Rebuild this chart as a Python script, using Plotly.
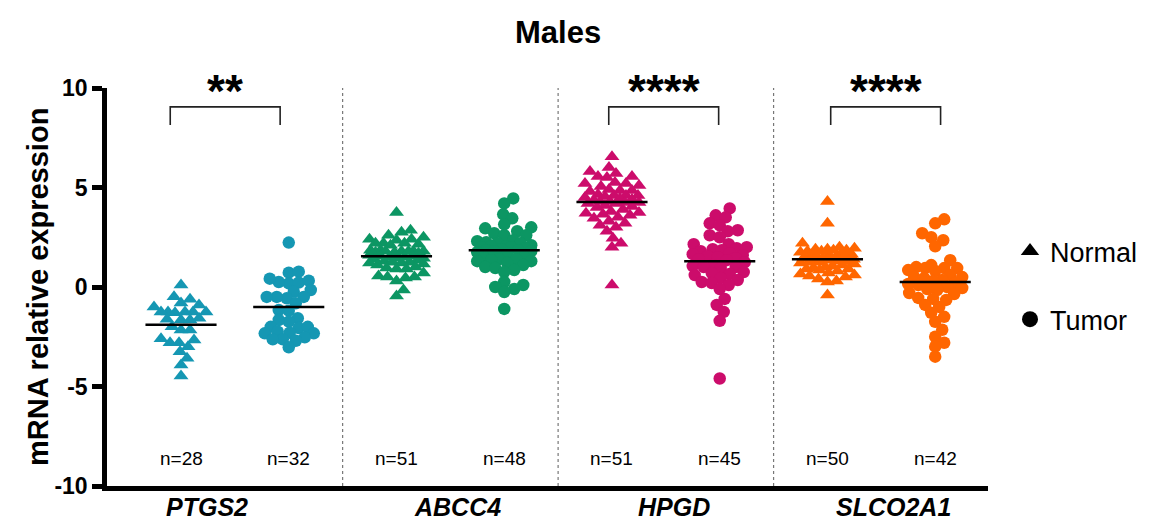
import numpy as np
import plotly.graph_objects as go

# ---------------- data ----------------
genes = ["PTGS2", "ABCC4", "HPGD", "SLCO2A1"]
groups = ["Normal", "Tumor"]
gene_colors = ["#1597b3", "#0c9663", "#cc0c6b", "#ff6600"]

ptgs2_normal = [0.1, -0.49, -0.62, -0.8, -0.9, -1.0, -1.29, -1.26, -1.26, -1.26, -1.26, -1.26,
                -1.62, -1.66, -1.66, -1.57, -2.0, -2.16, -2.16, -2.66, -2.8, -2.8, -2.6,
                -3.0, -3.25, -3.58, -3.92, -4.47]
ptgs2_tumor = [2.23, 0.72, 0.77, 0.18, 0.25, 0.22, 0.32, 0.42, -0.15, -0.24, -0.57, -0.5, -0.5,
               -0.5, -0.82, -1.16, -1.19, -1.57, -1.74, -1.66, -2.0, -2.06, -2.0, -2.33, -2.33,
               -2.25, -2.3, -2.53, -2.63, -2.63, -2.7, -3.03]
abcc4_normal = [3.75, 2.85, 2.75, 2.6, 2.5, 2.4, 2.4, 2.35, 2.2, 2.2, 2.2, 2.15, 2.1, 1.85, 1.8,
                1.8, 1.8, 1.8, 1.75, 1.75, 1.8, 1.85, 1.7, 1.6, 1.55, 1.55, 1.5, 1.5, 1.45, 1.45,
                1.4, 1.35, 1.3, 1.25, 1.25, 1.2, 1.2, 1.15, 1.1, 1.0, 0.95, 0.9, 0.9, 0.7, 0.55,
                0.5, 0.5, 0.45, 0.3, -0.15, -0.45]
abcc4_tumor = [4.45, 4.2, 3.65, 3.45, 3.15, 3.0, 2.95, 2.8, 2.7, 2.6, 2.6, 2.35, 2.3, 2.25, 2.2,
               2.2, 2.1, 2.05, 2.05, 2.0, 2.0, 1.95, 1.9, 1.85, 1.85, 1.8, 1.8, 1.75, 1.7, 1.5,
               1.45, 1.4, 1.4, 1.35, 1.3, 1.3, 1.2, 1.1, 1.0, 0.95, 0.85, 0.75, 0.25, 0.1, 0.0,
               -0.1, -0.25, -1.1]
hpgd_normal = [6.55, 6.0, 5.8, 5.7, 5.55, 5.55, 5.5, 5.25, 5.2, 5.2, 5.1, 5.05, 4.9, 4.85, 4.85,
               4.8, 4.65, 4.6, 4.6, 4.6, 4.55, 4.5, 4.45, 4.4, 4.35, 4.3, 4.3, 4.25, 4.25, 4.2,
               4.2, 4.1, 4.05, 4.0, 3.9, 3.8, 3.75, 3.7, 3.65, 3.6, 3.5, 3.45, 3.3, 3.2, 3.1,
               3.0, 2.8, 2.45, 2.2, 2.0, 0.1]
hpgd_tumor = [3.95, 3.6, 3.5, 3.2, 3.1, 2.85, 2.8, 2.6, 2.5, 2.15, 2.15, 2.0, 1.95, 1.9, 1.85,
              1.8, 1.7, 1.65, 1.6, 1.55, 1.5, 1.45, 1.4, 1.35, 1.25, 1.1, 1.05, 1.0, 1.0, 0.95,
              0.75, 0.7, 0.65, 0.6, 0.45, 0.35, 0.25, 0.2, 0.1, -0.1, -0.6, -0.9, -1.25, -1.7,
              -4.6]
slco2a1_normal = [4.3, 3.2, 2.2, 2.0, 1.95, 1.9, 1.9, 1.85, 1.85, 1.8, 1.8, 1.75, 1.7, 1.65, 1.6,
                  1.6, 1.55, 1.5, 1.5, 1.5, 1.45, 1.45, 1.4, 1.4, 1.4, 1.35, 1.35, 1.3, 1.3, 1.25,
                  1.25, 1.2, 1.15, 1.1, 1.05, 1.0, 0.95, 0.9, 0.9, 0.85, 0.8, 0.7, 0.65, 0.6,
                  0.55, 0.5, 0.4, 0.3, 0.25, -0.4]
slco2a1_tumor = [3.4, 3.2, 2.7, 2.5, 2.35, 2.05, 1.35, 1.1, 1.0, 0.95, 0.95, 0.95, 0.85, 0.8, 0.6,
                 0.5, 0.5, 0.45, 0.35, 0.3, 0.2, 0.1, 0.0, -0.05, -0.1, -0.15, -0.3, -0.35,
                 -0.55, -0.6, -0.65, -0.9, -1.0, -1.3, -1.5, -1.75, -2.15, -2.5, -2.8, -3.0,
                 -3.5, 0.15]

series = [ptgs2_normal, ptgs2_tumor, abcc4_normal, abcc4_tumor,
          hpgd_normal, hpgd_tumor, slco2a1_normal, slco2a1_tumor]
means = [-1.9, -1.0, 1.55, 1.85, 4.27, 1.3, 1.4, 0.25]
n_labels = ["n=28", "n=32", "n=51", "n=48", "n=51", "n=45", "n=50", "n=42"]
sig_labels = ["**", "", "****", "****"]
y_ticks = [-10, -5, 0, 5, 10]
y_tick_text = ["-10", "-5", "0", "5", "10"]

# ---------------- layout helpers ----------------
# the page body has an 8px margin, so the figure is made 8px smaller and
# positions below are given in page pixels
PAGE_OFF = 8
W, H = 1173 - PAGE_OFF, 528 - PAGE_OFF
PL, PT, PR, PB = 107, 88, 988, 486          # plot area in page pixels
ML, MT = PL - PAGE_OFF, PT - PAGE_OFF
MR = W - (PR - PAGE_OFF)
MB = H - (PB - PAGE_OFF)
PW, PH = PR - PL, PB - PT
XR = [-0.687, 7.49]
YR = [-10, 10]
XPX = PW / (XR[1] - XR[0])
YPX = PH / (YR[1] - YR[0])


def px2paper_x(px):
    return (px - PL) / PW


def px2paper_y(py):
    return (PB - py) / PH


def swarm(vals, diam=9.5, maxw=27.0):
    """simple beeswarm: returns x offsets (data units)"""
    vals = np.asarray(vals, float)
    order = np.argsort(vals)
    placed = []
    offs = np.zeros(len(vals))
    cands = [0.0]
    for k in np.arange(1.0, maxw + 0.01, 1.0):
        cands += [k, -k]
    for i in order:
        y = vals[i] * YPX
        best = None
        for c in cands:
            if all((c - px) ** 2 + (y - py) ** 2 >= diam ** 2 for px, py in placed):
                best = c
                break
        if best is None:
            best = max(cands, key=lambda c: min((c - px) ** 2 + (y - py) ** 2 for px, py in placed))
        placed.append((best, y))
        offs[i] = best / XPX
    return offs


FONT = "Liberation Sans, Arial, Helvetica, sans-serif"
fig = go.Figure()

for k, vals in enumerate(series):
    g = k // 2
    is_normal = (k % 2 == 0)
    offs = swarm(vals, diam=9.0 if is_normal else 9.5)
    fig.add_trace(go.Scatter(
        x=k + offs, y=vals, mode="markers", showlegend=False,
        marker=dict(symbol="triangle-up" if is_normal else "circle",
                    size=13 if is_normal else 12.5,
                    color=gene_colors[g], line=dict(width=0)),
        hoverinfo="y", name=f"{genes[g]} {groups[k % 2]}"))
    fig.add_shape(type="line", x0=k - 0.33, x1=k + 0.33, y0=means[k], y1=means[k],
                  line=dict(color="black", width=2.5), layer="above")
    fig.add_annotation(x=k, y=-8.6, text=n_labels[k], showarrow=False,
                       font=dict(family=FONT, size=19, color="black"))

# legend entries
fig.add_trace(go.Scatter(x=[None], y=[None], mode="markers", name="Normal", legendgroup="a",
                         marker=dict(symbol="triangle-up", size=16, color="black")))
fig.add_trace(go.Scatter(x=[None], y=[None], mode="markers", name="Tumor", legendgroup="b",
                         marker=dict(symbol="circle", size=16, color="black")))

# separators
for xs in [1.5, 3.5, 5.5]:
    fig.add_shape(type="line", x0=xs, x1=xs, y0=-10, y1=10,
                  line=dict(color="#777777", width=1.2, dash="dot"), layer="below")

# significance brackets
bracket_x = [(-0.1, 0.92), None, (3.97, 4.99), (6.03, 7.05)]
for g, br in enumerate(bracket_x):
    if br is None:
        continue
    x0, x1 = br
    fig.add_shape(type="path",
                  path=f"M {x0},8.14 L {x0},9.05 L {x1},9.05 L {x1},8.14",
                  line=dict(color="#222222", width=1.6))
    fig.add_annotation(x=(x0 + x1) / 2, y=9.85, text=sig_labels[g], showarrow=False,
                       font=dict(family=FONT, size=46, color="black", weight="bold"),
                       yanchor="middle")

# gene labels
gene_x = [0.24, 2.57, 4.58, 6.61]
for g, gx in enumerate(gene_x):
    fig.add_annotation(x=gx, xref="x", y=px2paper_y(507), yref="paper",
                       text=f"<b><i>{genes[g]}</i></b>", showarrow=False, yanchor="middle",
                       font=dict(family=FONT, size=25, color="black"))

# title and y-axis title
fig.add_annotation(x=px2paper_x(558), y=px2paper_y(32), xref="paper", yref="paper",
                   text="<b>Males</b>", showarrow=False, yanchor="middle",
                   font=dict(family=FONT, size=31, color="black"))
fig.add_annotation(x=px2paper_x(38), y=0.5, xref="paper", yref="paper",
                   text="<b>mRNA relative expression</b>", textangle=-90, showarrow=False,
                   xanchor="center", yanchor="middle",
                   font=dict(family=FONT, size=29, color="black"))

fig.update_layout(
    width=W, height=H, margin=dict(l=ML, r=MR, t=MT, b=MB, pad=0),
    plot_bgcolor="white", paper_bgcolor="white",
    font=dict(family=FONT, color="black"),
    xaxis=dict(range=XR, showgrid=False, zeroline=False, showticklabels=False, ticks="",
               showline=True, linecolor="black", linewidth=4.5, fixedrange=True),
    yaxis=dict(range=YR, tickvals=y_ticks, ticktext=y_tick_text, showgrid=False,
               zeroline=False, showline=True, linecolor="black", linewidth=4.5,
               ticks="outside", ticklen=10, tickwidth=4.5, tickcolor="black",
               tickfont=dict(family=FONT, size=23, color="black", weight="bold"),
               fixedrange=True),
    legend=dict(x=px2paper_x(1010), y=px2paper_y(227), xanchor="left", yanchor="top",
                tracegroupgap=30, font=dict(family=FONT, size=27, color="black"),
                bgcolor="rgba(0,0,0,0)"),
    showlegend=True,
)

fig.write_html("out.html")
